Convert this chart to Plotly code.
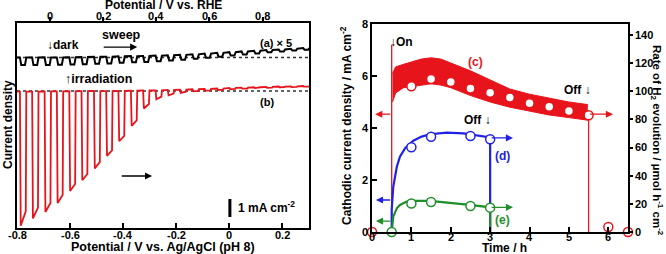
import plotly.graph_objects as go

W, H = 666, 254
RED = "#e8141b"
BLUE = "#2121e6"
GREEN = "#1f8f2a"
FONT = "Liberation Sans"

# ---------------- Left panel: chopped-light LSV ----------------
V_start, V_end = -0.8, 0.3
rhe_offset = 0.675
chop_on_V = [-0.789, -0.743, -0.696, -0.650, -0.603, -0.557, -0.510, -0.464,
             -0.418, -0.371, -0.325, -0.278, -0.232, -0.186, -0.139, -0.093,
             -0.046, 0.000, 0.046, 0.093, 0.139, 0.186, 0.232, 0.278]
light_on_width = 0.024

red_dark = [-0.03, -0.03, -0.02, -0.02, -0.01, -0.01, 0.0, 0.0, 0.01, 0.02, 0.03, 0.04,
            0.06, 0.08, 0.10, 0.12, 0.14, 0.17, 0.19, 0.21, 0.23, 0.25, 0.26, 0.28]
red_peak = [7.45, 7.05, 6.70, 6.20, 5.55, 4.95, 4.30, 3.60, 2.80, 1.95, 1.00, 0.50,
            0.30, 0.18, 0.12, 0.10, 0.08, 0.07, 0.06, 0.05, 0.05, 0.04, 0.04, 0.04]
red_end = [6.65, 6.45, 6.20, 5.75, 5.15, 4.60, 3.95, 3.30, 2.50, 1.65, 0.75, 0.35,
           0.20, 0.12, 0.09, 0.08, 0.06, 0.05, 0.05, 0.04, 0.04, 0.03, 0.03, 0.03]

black_dark = [1.86, 1.86, 1.87, 1.87, 1.88, 1.89, 1.90, 1.91, 1.93, 1.94, 1.95, 1.97,
              1.99, 2.01, 2.04, 2.08, 2.12, 2.16, 2.20, 2.24, 2.28, 2.31, 2.35, 2.39]
black_dip = [0.42, 0.42, 0.42, 0.41, 0.41, 0.40, 0.39, 0.38, 0.36, 0.34, 0.33, 0.31,
             0.29, 0.27, 0.25, 0.23, 0.21, 0.19, 0.17, 0.15, 0.13, 0.11, 0.10, 0.09]
black_dotted = 1.86
red_dotted = 0.0
scale_bar_V = 0.002
scale_bar_j = [-6.0, -7.0]

bottom_ticks = [-0.8, -0.6, -0.4, -0.2, 0.0, 0.2]
bottom_ticktext = ["-0.8", "-0.6", "-0.4", "-0.2", "0", "0.2"]
top_ticks = [0.0, 0.2, 0.4, 0.6, 0.8]
top_ticktext = ["0", "0.2", "0.4", "0.6", "0.8"]


def chopped(dark, drop_a, drop_b, edge_a, edge_b):
    xs, ys = [V_start], [dark[0]]
    for k, v in enumerate(chop_on_V):
        xs += [v, v + edge_a, v + light_on_width - edge_b, v + light_on_width]
        ys += [dark[k], dark[k] - drop_a[k], dark[k] - drop_b[k], dark[k]]
    xs.append(V_end)
    ys.append(dark[-1])
    return xs, ys


# ---------------- Right panel: long-term photoelectrolysis ----------------
band_t = [0.52, 0.6, 0.8, 1.0, 1.25, 1.5, 1.75, 2.0, 2.5, 3.0, 3.5, 4.0, 4.5, 5.0, 5.48]
band_low = [5.0, 5.35, 5.55, 5.6, 5.65, 5.7, 5.65, 5.55, 5.25, 5.0, 4.8, 4.65, 4.5, 4.4, 4.3]
band_high = [6.1, 6.35, 6.45, 6.55, 6.65, 6.7, 6.65, 6.5, 6.2, 5.85, 5.5, 5.3, 5.15, 5.0, 4.9]
on_line_t = [0.5, 0.5]
on_line_j = [0.0, 7.2]
off_line_t = [5.5, 5.5]
off_line_j = [4.55, 0.0]

d_time = [0.5, 0.5, 0.54, 0.63, 0.71, 0.84, 1.05, 1.26, 1.47, 1.9, 2.32, 2.74, 3.0, 3.0]
d_j = [0.0, 0.85, 1.74, 2.51, 2.9, 3.22, 3.51, 3.67, 3.76, 3.82, 3.79, 3.7, 3.64, 0.0]
e_time = [0.5, 0.54, 0.63, 0.71, 0.88, 1.05, 1.47, 1.9, 2.48, 3.0, 3.0]
e_j = [0.0, 0.59, 0.91, 1.04, 1.17, 1.2, 1.2, 1.14, 1.04, 0.95, 0.0]

time_ticks = [0, 1, 2, 3, 4, 5, 6]
current_ticks = [0, 2, 4, 6, 8]
rate_ticks = [0, 20, 40, 60, 80, 100, 120, 140]

c_t = [0, 1.0, 1.5, 2.0, 2.5, 3.0, 3.5, 4.0, 4.5, 5.0, 5.5, 6.0, 6.5]
c_rate = [0, 103.5, 108.7, 106.6, 102.0, 99.0, 95.5, 91.5, 89.0, 86.0, 83.0, 3.5, 0]
d_t = [1.0, 1.5, 2.5, 3.0]
d_rate = [60.2, 67.7, 68.2, 65.9]
e_t = [0.5, 1.0, 1.5, 2.5, 3.0]
e_rate = [0.0, 20.2, 21.3, 18.5, 17.3]

fig = go.Figure()

# left panel traces
fig.add_trace(go.Scatter(x=[V_start, V_end], y=[black_dotted, black_dotted], mode="lines",
                         line=dict(color="#333333", width=1.5, dash="dot"),
                         xaxis="x", yaxis="y", hoverinfo="skip"))
fig.add_trace(go.Scatter(x=[V_start, V_end], y=[red_dotted, red_dotted], mode="lines",
                         line=dict(color="#333333", width=1.5, dash="dot"),
                         xaxis="x", yaxis="y", hoverinfo="skip"))
bx, by = chopped(black_dark, black_dip, black_dip, 0.005, 0.005)
fig.add_trace(go.Scatter(x=bx, y=by, mode="lines", line=dict(color="black", width=2),
                         xaxis="x", yaxis="y"))
rx, ry = chopped(red_dark, red_peak, red_end, 0.003, 0.002)
fig.add_trace(go.Scatter(x=rx, y=ry, mode="lines", line=dict(color=RED, width=1.8),
                         xaxis="x", yaxis="y"))
fig.add_trace(go.Scatter(x=[scale_bar_V, scale_bar_V], y=scale_bar_j, mode="lines",
                         line=dict(color="black", width=3), xaxis="x", yaxis="y"))
# invisible trace so the top RHE axis is drawn
fig.add_trace(go.Scatter(x=[V_start + rhe_offset], y=[0], mode="markers",
                         marker=dict(opacity=0), xaxis="x2", yaxis="y", hoverinfo="skip"))

# right panel traces
fig.add_trace(go.Scatter(x=band_t, y=band_low, mode="lines", line=dict(color=RED, width=1),
                         xaxis="x3", yaxis="y2"))
fig.add_trace(go.Scatter(x=band_t, y=band_high, mode="lines", line=dict(color=RED, width=1),
                         fill="tonexty", fillcolor=RED, xaxis="x3", yaxis="y2"))
fig.add_trace(go.Scatter(x=on_line_t, y=on_line_j, mode="lines", line=dict(color=RED, width=1.3),
                         xaxis="x3", yaxis="y2"))
fig.add_trace(go.Scatter(x=off_line_t, y=off_line_j, mode="lines", line=dict(color=RED, width=1.3),
                         xaxis="x3", yaxis="y2"))
fig.add_trace(go.Scatter(x=d_time, y=d_j, mode="lines", line=dict(color=BLUE, width=2.2),
                         xaxis="x3", yaxis="y2"))
fig.add_trace(go.Scatter(x=[d_time[-1], d_time[-1]], y=[d_j[-2], 0], mode="lines",
                         line=dict(color=BLUE, width=1.2), xaxis="x3", yaxis="y2"))
fig.add_trace(go.Scatter(x=e_time, y=e_j, mode="lines", line=dict(color=GREEN, width=2.2),
                         xaxis="x3", yaxis="y2"))

for tt, rr, col in [(c_t, c_rate, RED), (d_t, d_rate, BLUE), (e_t, e_rate, GREEN)]:
    fig.add_trace(go.Scatter(x=tt, y=rr, mode="markers", cliponaxis=False,
                             marker=dict(size=9, color="white", line=dict(color=col, width=1.5)),
                             xaxis="x3", yaxis="y3"))

def px_x(p):
    return p / W

def px_y(p):
    return 1 - p / H

tickf = dict(family=FONT, size=11, color="black", weight="bold")
axis_common = dict(showgrid=False, zeroline=False, showline=True, linecolor="black",
                   linewidth=1.6, tickfont=tickf, tickcolor="black", tickwidth=1.5,
                   ticklen=5, automargin=False)
left_dom = [px_x(17), px_x(309)]

fig.update_layout(
    width=W, height=H, margin=dict(l=0, r=0, t=0, b=0, pad=0), autosize=False,
    paper_bgcolor="white", plot_bgcolor="rgba(0,0,0,0)", showlegend=False,
    font=dict(family=FONT, size=12, color="black", weight="bold"),
    xaxis=dict(domain=left_dom, range=[V_start, V_end], anchor="y",
               tickvals=bottom_ticks, showticklabels=False, ticks="inside", mirror=True,
               **axis_common),
    xaxis2=dict(domain=left_dom, side="top", anchor="y",
                range=[V_start + rhe_offset, V_end + rhe_offset],
                tickvals=top_ticks, showticklabels=False, ticks="outside",
                **{**axis_common, "ticklen": 4}),
    yaxis=dict(domain=[px_y(228), px_y(23)], range=[-7.61, 3.78], anchor="x",
               showticklabels=False, ticks="", mirror=True, showgrid=False, zeroline=False,
               showline=True, linecolor="black", linewidth=1.6, automargin=False),
    xaxis3=dict(domain=[px_x(372), px_x(628)], range=[0, 6.5], anchor="y2",
                tickvals=time_ticks, showticklabels=False, ticks="inside", mirror=True,
                **axis_common),
    yaxis2=dict(domain=[px_y(232), px_y(24)], range=[0, 8], anchor="x3",
                tickvals=current_ticks, ticks="inside", mirror=True, **axis_common),
    yaxis3=dict(overlaying="y2", side="right", anchor="x3", range=[0, 147.8],
                tickvals=rate_ticks, ticks="outside", **{**axis_common, "ticklen": 3}),
)

ann = []
def txt(x, y, s, xref, yref, size=12, color="black", xanchor="center", angle=0):
    ann.append(dict(x=x, y=y, xref=xref, yref=yref, text=s, showarrow=False,
                    xanchor=xanchor, yanchor="middle", textangle=angle,
                    font=dict(family=FONT, size=size, color=color, weight="bold")))

def arrow(x0, y0, x1, y1, xref, yref, color="black", width=1.3):
    ann.append(dict(x=x1, y=y1, ax=x0, ay=y0, xref=xref, yref=yref, axref=xref, ayref=yref,
                    text="", showarrow=True, arrowhead=2, arrowsize=1.1, arrowwidth=width,
                    arrowcolor=color, standoff=0, startstandoff=0))

# x tick labels placed tight to the axes (as in the reference)
for v, s in zip(top_ticks, top_ticktext):
    txt(v, px_y(16), s, "x2", "paper", size=11)
for v, s in zip(bottom_ticks, bottom_ticktext):
    txt(v, px_y(235), s, "x", "paper", size=11)
for v in time_ticks:
    txt(v, px_y(237), str(v), "x3", "paper", size=11)

# axis titles
txt(px_x(163), px_y(5.5), "Potential / V vs. RHE", "paper", "paper", size=12)
txt(px_x(163), px_y(246.5), "Potential / V vs. Ag/AgCl (pH 8)", "paper", "paper", size=12.5)
txt(px_x(8), px_y(125), "Current density", "paper", "paper", size=12, angle=-90)
txt(px_x(505), px_y(248), "Time / h", "paper", "paper", size=12)
txt(px_x(346), px_y(125), "Cathodic current density / mA cm<sup>-2</sup>", "paper", "paper",
    size=12, angle=-90)
txt(px_x(657), px_y(140), "Rate of H<sub>2</sub> evolution / \u00b5mol h<sup>-1</sup> cm<sup>-2</sup>",
    "paper", "paper", size=11.5, angle=90)

# left panel labels
txt(-0.694, 2.58, "\u2193dark", "x", "y", xanchor="left")
txt(-0.408, 3.11, "sweep", "x", "y", size=12.5)
arrow(-0.479, 2.44, -0.347, 2.44, "x", "y")
txt(-0.625, 0.68, "\u2191irradiation", "x", "y", xanchor="left", size=12.5)
txt(0.176, 2.67, "(a) \u00d7 5", "x", "y", size=11)
txt(0.140, -0.61, "(b)", "x", "y", size=11)
arrow(-0.411, -4.72, -0.291, -4.72, "x", "y")
txt(0.026, -6.44, "1 mA cm<sup>-2</sup>", "x", "y", xanchor="left")

# right panel labels
txt(0.41, 7.3, "\u2193On", "x3", "y2", xanchor="left")
txt(2.64, 6.54, "(c)", "x3", "y2", color=RED)
txt(5.23, 5.46, "Off \u2193", "x3", "y2")
txt(2.69, 4.31, "Off \u2193", "x3", "y2")
txt(3.32, 2.92, "(d)", "x3", "y2", color=BLUE)
txt(3.32, 0.46, "(e)", "x3", "y2", color=GREEN)
arrow(0.5, 4.53, 0.08, 4.53, "x3", "y2", color=RED)
arrow(5.5, 4.53, 6.12, 4.53, "x3", "y2", color=RED)
arrow(0.5, 1.23, 0.1, 1.23, "x3", "y2", color=BLUE)
arrow(3.0, 3.62, 3.58, 3.62, "x3", "y2", color=BLUE)
arrow(0.5, 0.42, 0.1, 0.42, "x3", "y2", color=GREEN)
arrow(3.0, 0.95, 3.58, 0.95, "x3", "y2", color=GREEN)

fig.update_layout(annotations=ann)
fig.write_html("out.html")
